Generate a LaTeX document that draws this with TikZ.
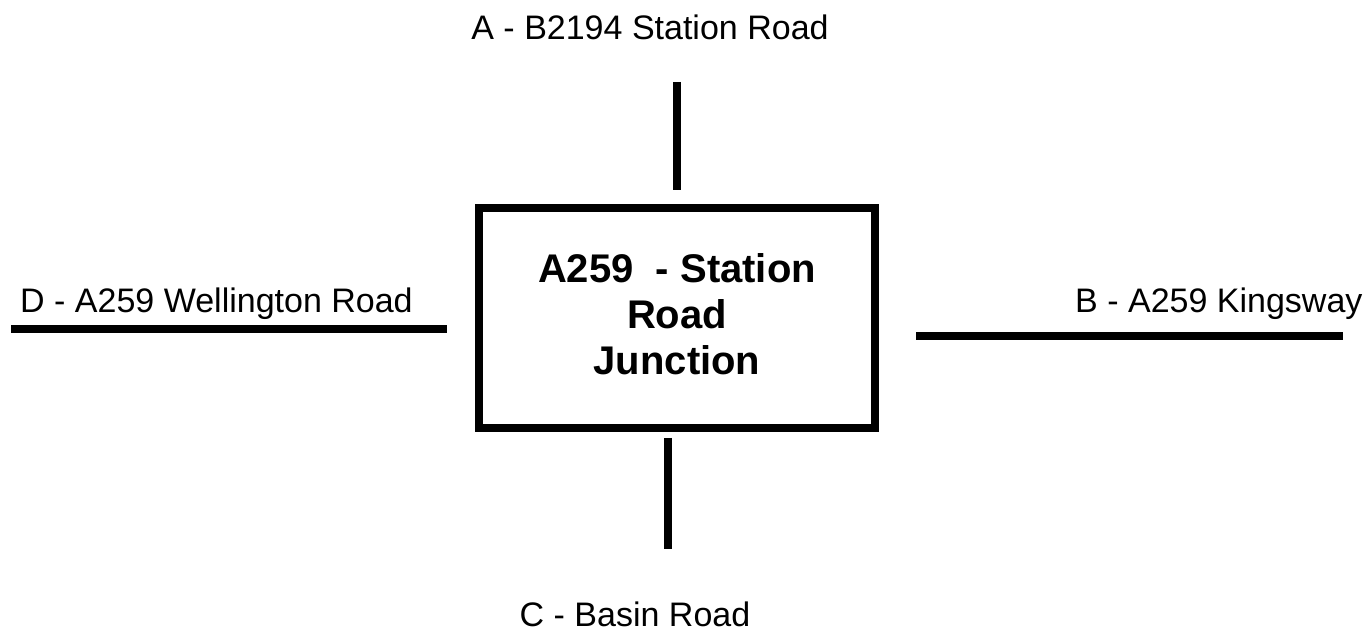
\documentclass[tikz,border=0pt]{standalone}
\usepackage{fontspec}
\setmainfont{Liberation Sans}
\begin{document}
\begin{tikzpicture}[x=1pt,y=1pt,
  road/.style={line width=8pt,line cap=butt},
  junctionbox/.style={draw,line width=8pt,minimum width=396pt,minimum height=220pt,inner sep=0pt,
    text depth=8pt,align=center,font=\fontsize{40}{46}\selectfont\bfseries},
  roadlabel/.style={inner sep=0pt,font=\fontsize{34}{40}\selectfont}]
\useasboundingbox (0,0) rectangle (1371,637);
\node[junctionbox] (J) at (677,319) {A259\ \ - Station\\Road\\Junction};
% roads
\coordinate (a1) at (677,555); \coordinate (a2) at (677,447);
\coordinate (c1) at (668,199); \coordinate (c2) at (668,88);
\coordinate (d1) at (11,308);  \coordinate (d2) at (447,308);
\coordinate (b1) at (916,301); \coordinate (b2) at (1343,301);
\draw[road] (a1) -- (a2);
\draw[road] (c1) -- (c2);
\draw[road] (d1) -- (d2);
\draw[road] (b1) -- (b2);
% labels
\node[roadlabel,anchor=base] (A) at (650,597) {A - B2194 Station Road};
\node[roadlabel,anchor=base west] (D) at (20,324) {D - A259 Wellington Road};
\node[roadlabel,anchor=base west] (B) at (1075,324) {B - A259 Kingsway};
\node[roadlabel,anchor=base] (C) at (635,10) {C - Basin Road};
\end{tikzpicture}
\end{document}
